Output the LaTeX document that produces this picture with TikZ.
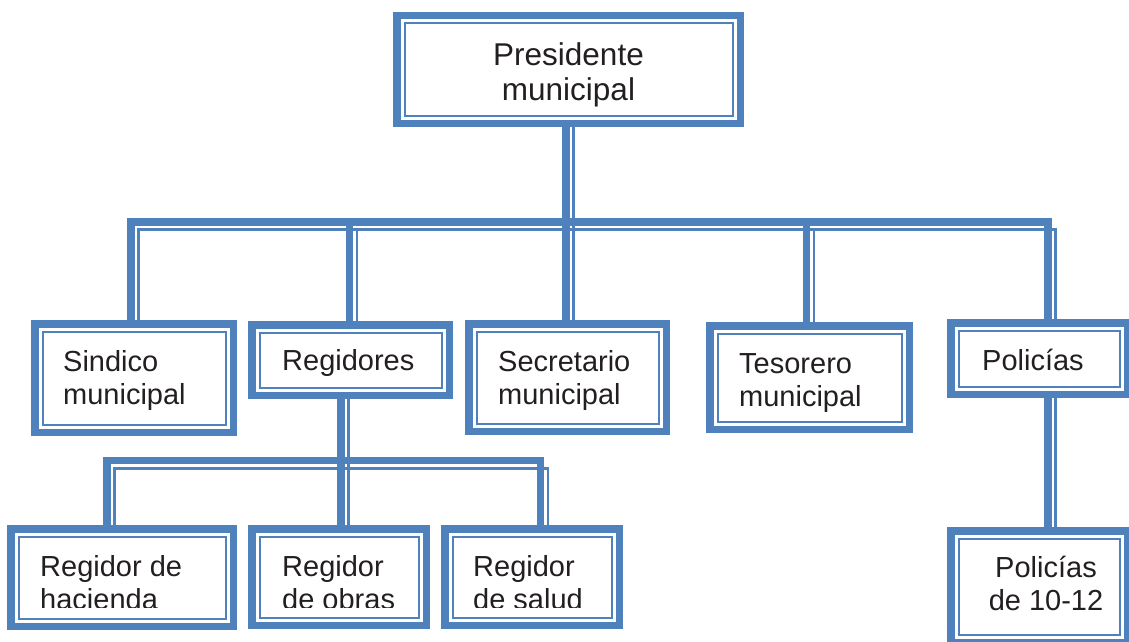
\documentclass[tikz,border=0pt]{standalone}
\usepackage{fontspec}
\setmainfont{Liberation Sans}
\usetikzlibrary{backgrounds}
\definecolor{obl}{HTML}{4F81BD}
\definecolor{ink}{HTML}{231F20}
\newcommand\obox[5]{\node[box, minimum width={#4-#2-7.5}, minimum height={#5-#3-7.5}] (#1) at ({#2+3.75},{#3+3.75}) {};}
\begin{document}
\begin{tikzpicture}[x=1pt,y=-1pt,
 box/.style={draw=obl, fill=white, line width=7.5pt, inner sep=0pt, outer sep=0pt, anchor=north west,
   path picture={\draw[obl, line width=2pt] ([shift={(7.75,7.75)}]path picture bounding box.north west) rectangle ([shift={(-7.75,-7.75)}]path picture bounding box.south east);}},
 thk/.style={draw=obl, line width=7.5pt, line join=miter},
 thn/.style={draw=obl, line width=2.5pt, line join=miter},
 lbl/.style={text=ink, font=\fontsize{29}{33}\selectfont, inner sep=0pt, anchor=base west},
 lblc/.style={lbl, anchor=base},
 lblbig/.style={text=ink, font=\fontsize{31.5}{35}\selectfont, inner sep=0pt, anchor=base},
]
\clip (0,0) rectangle (1129,642);
% boxes
\obox{pres}{393}{12}{744}{127}
\obox{sind}{31}{320}{237}{436}
\obox{reg}{248}{321}{453}{399}
\obox{sec}{465}{320}{670}{435}
\obox{tes}{706}{322}{913}{433}
\obox{pol}{947}{319}{1131}{398}
\obox{hac}{7}{525}{237}{630}
\obox{obr}{248}{525}{430}{629}
\obox{sal}{441}{525}{623}{629}
\obox{poltwo}{947}{527}{1131}{646}
% connectors, behind the boxes
\begin{scope}[on background layer]
\fill[white] (0,0) rectangle (1129,642);
% top level
\draw[thk] (566,0 |- pres.south) |- (131,222) -- (131,0 |- sind.north);
\draw[thn] (573.5,0 |- pres.south) |- (138.5,229.5) -- (138.5,0 |- sind.north);
\draw[thk] (566,0 |- pres.south) |- (349.5,222) -- (349.5,0 |- reg.north);
\draw[thn] (573.5,0 |- pres.south) |- (357,229.5) -- (357,0 |- reg.north);
\draw[thk] (566,0 |- pres.south) -- (566,0 |- sec.north);
\draw[thn] (573.5,0 |- pres.south) -- (573.5,0 |- sec.north);
\draw[thk] (566,0 |- pres.south) |- (806.5,222) -- (806.5,0 |- tes.north);
\draw[thn] (573.5,0 |- pres.south) |- (814,229.5) -- (814,0 |- tes.north);
\draw[thk] (566,0 |- pres.south) |- (1048,222) -- (1048,0 |- pol.north);
\draw[thn] (573.5,0 |- pres.south) |- (1055.5,229.5) -- (1055.5,0 |- pol.north);
% regidores subtree
\draw[thk] (341,0 |- reg.south) |- (107,460.5) -- (107,0 |- hac.north);
\draw[thn] (348.5,0 |- reg.south) |- (114.5,468.5) -- (114.5,0 |- hac.north);
\draw[thk] (341,0 |- reg.south) -- (341,0 |- obr.north);
\draw[thn] (348.5,0 |- reg.south) -- (348.5,0 |- obr.north);
\draw[thk] (341,0 |- reg.south) |- (540.5,460.5) -- (540.5,0 |- sal.north);
\draw[thn] (348.5,0 |- reg.south) |- (548,468.5) -- (548,0 |- sal.north);
% policias
\draw[thk] (1048,0 |- pol.south) -- (1048,0 |- poltwo.north);
\draw[thn] (1055.5,0 |- pol.south) -- (1055.5,0 |- poltwo.north);
\end{scope}
% texts
\node[lblbig] (presa) at (568.5,66) {Presidente};
\node[lblbig] (presb) at (568.5,100) {municipal};
\node[lbl] (sinda) at (63,371) {Sindico};
\node[lbl] (sindb) at (63,404) {municipal};
\node[lbl] (rega) at (282,370) {Regidores};
\node[lbl] (seca) at (498,371) {Secretario};
\node[lbl] (secb) at (498,404) {municipal};
\node[lbl] (tesa) at (739,373) {Tesorero};
\node[lbl] (tesb) at (739,406) {municipal};
\node[lbl] (pola) at (982,370) {Policías};
\node[lblc] (poltwoa) at (1046,577) {Policías};
\node[lblc] (poltwob) at (1046,610) {de 10-12};
\begin{scope}
\clip (0,520) rectangle (630,607);
\node[lbl] (haca) at (40,576) {Regidor de};
\node[lbl] (hacb) at (40,609) {hacienda};
\node[lbl] (obra) at (282,576) {Regidor};
\node[lbl] (obrb) at (282,609) {de obras};
\node[lbl] (sala) at (473,576) {Regidor};
\node[lbl] (salb) at (473,609) {de salud};
\end{scope}
\end{tikzpicture}
\end{document}
